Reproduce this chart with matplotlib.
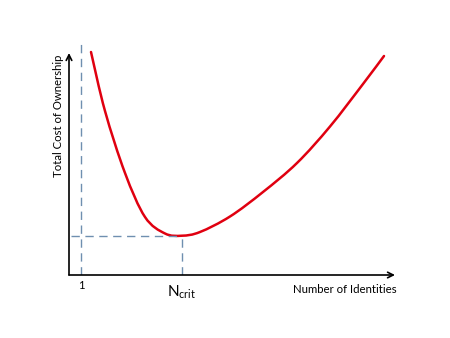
import matplotlib
matplotlib.use("Agg")
import matplotlib.pyplot as plt
from matplotlib.path import Path
from matplotlib.patches import PathPatch

# Curve: number of identities (arbitrary units) vs total cost of ownership
identities = [22, 36, 56, 76, 96, 113, 131, 161, 194, 228, 261, 294, 315]
cost = [223, 164, 102, 58, 41.5, 39.3, 43, 58.5, 83, 112, 148.5, 191, 219]

one_x = 12          # position of "1"
n_crit_x = 113      # position of N_crit
n_crit_cost = 39    # minimum cost

W, H = 450, 338
fig = plt.figure(figsize=(4.5, 3.38), dpi=100)
ax = fig.add_axes([69 / W, (H - 275) / H, 331 / W, 240 / H])
ax.set_xlim(0, 331)
ax.set_ylim(0, 240)
ax.axis("off")

font = "Lato"
dash_col = "#6f8fb0"

# dashed guide lines
ax.plot([one_x, one_x], [0, 235], color=dash_col, lw=1.0, ls=(0, (6, 4)))
ax.plot([2, n_crit_x], [n_crit_cost, n_crit_cost], color=dash_col, lw=1.0, ls=(0, (6, 4)))
ax.plot([n_crit_x, n_crit_x], [0, n_crit_cost], color=dash_col, lw=1.0, ls=(0, (6, 4)))

# axes arrows
ax.annotate("", xy=(326, 0), xytext=(0, 0),
            arrowprops=dict(arrowstyle="->", color="black", lw=1.2, shrinkA=0, shrinkB=0))
ax.annotate("", xy=(0, 222), xytext=(0, 0),
            arrowprops=dict(arrowstyle="->", color="black", lw=1.2, shrinkA=0, shrinkB=0))

# smooth curve through the data points (Catmull-Rom rendered as cubic Bezier path)
pts = list(zip(identities, cost))
verts = [pts[0]]
codes = [Path.MOVETO]
n = len(pts)
for i in range(n - 1):
    p0 = pts[i - 1] if i > 0 else pts[i]
    p1 = pts[i]
    p2 = pts[i + 1]
    p3 = pts[i + 2] if i + 2 < n else pts[i + 1]
    c1 = (p1[0] + (p2[0] - p0[0]) / 6, p1[1] + (p2[1] - p0[1]) / 6)
    c2 = (p2[0] - (p3[0] - p1[0]) / 6, p2[1] - (p3[1] - p1[1]) / 6)
    verts += [c1, c2, p2]
    codes += [Path.CURVE4] * 3
ax.add_patch(PathPatch(Path(verts, codes), facecolor="none", edgecolor="#e00010",
                       lw=1.8, capstyle="round", joinstyle="round"))

# labels
ax.text(one_x, -5, "1", ha="center", va="top", fontsize=8, family=font)
ax.text(n_crit_x, -8, r"N$_{\mathregular{crit}}$", ha="center", va="top", fontsize=11, family=font)
ax.text(328, -9, "Number of Identities", ha="right", va="top", fontsize=8.2, family=font)
ax.text(-11, 159, "Total Cost of Ownership", ha="center", va="center", rotation=90,
        fontsize=8.2, family=font)

fig.savefig("out.png", dpi=100)
